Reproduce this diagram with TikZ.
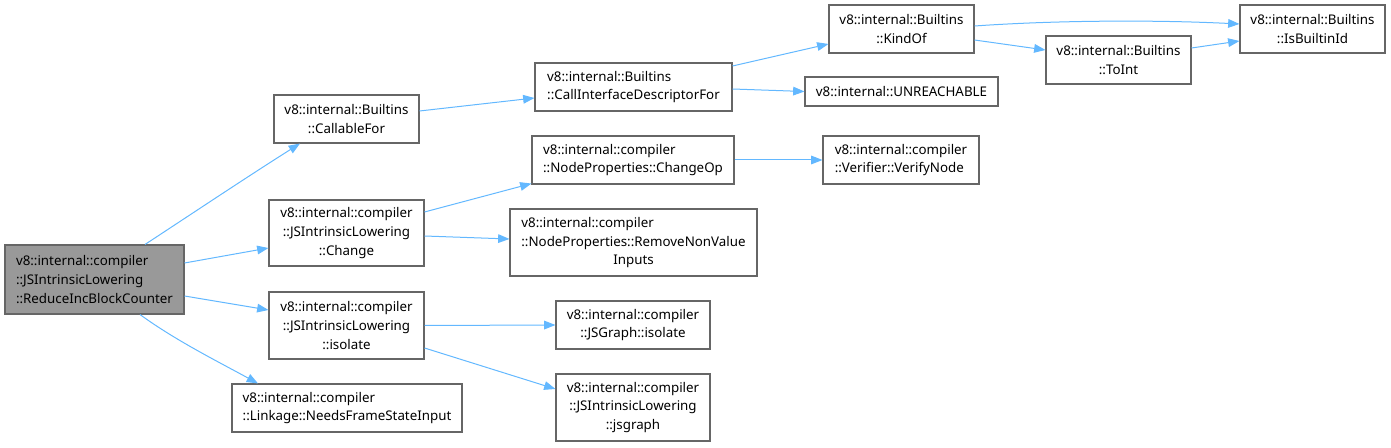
\documentclass[tikz,border=0pt]{standalone}
\usepackage{fontspec}
\setmainfont{Noto Sans}
\usetikzlibrary{arrows.meta,calc}
\begin{document}
\begin{tikzpicture}[x=0.75pt,y=-0.75pt,
  box/.style={draw=black!60,fill=white,line width=0.8pt,rectangle,inner sep=1pt,
    font=\fontsize{10}{14}\selectfont},
  rootbox/.style={box,fill=black!40},
  edge/.style={draw={rgb,255:red,99;green,184;blue,255},line width=0.75pt,
    -{Triangle[length=8.5pt,width=6.5pt]}}]
\useasboundingbox (0,0) rectangle (1391,448);
% nodes
\node[rootbox,align=left,minimum width=179*0.75pt,minimum height=69*0.75pt] (root) at (94.5,279.5)
  {v8::internal::compiler\\::JSIntrinsicLowering\\::ReduceIncBlockCounter};
\node[box,align=center,minimum width=145*0.75pt,minimum height=48*0.75pt] (callable) at (346.5,119)
  {v8::internal::Builtins\\::CallableFor};
\node[box,align=center,minimum width=155*0.75pt,minimum height=66*0.75pt] (change) at (346.5,233)
  {v8::internal::compiler\\::JSIntrinsicLowering\\::Change};
\node[box,align=center,minimum width=155*0.75pt,minimum height=67*0.75pt] (isolate) at (346.5,325.5)
  {v8::internal::compiler\\::JSIntrinsicLowering\\::isolate};
\node[box,align=left,minimum width=230*0.75pt,minimum height=48*0.75pt] (needs) at (347,408)
  {v8::internal::compiler\\::Linkage::NeedsFrameStateInput};
\node[box,align=left,minimum width=197*0.75pt,minimum height=48*0.75pt] (cidf) at (633.5,87)
  {v8::internal::Builtins\\::CallInterfaceDescriptorFor};
\node[box,align=left,minimum width=202*0.75pt,minimum height=48*0.75pt] (changeop) at (633,160)
  {v8::internal::compiler\\::NodeProperties::ChangeOp};
\node[box,minimum width=247*0.75pt,minimum height=67*0.75pt] (rnv) at (633.5,242.5)
  {\begin{tabular}{@{}l@{}}v8::internal::compiler\\::NodeProperties::RemoveNonValue\\\multicolumn{1}{@{}c@{}}{Inputs}\end{tabular}};
\node[box,minimum width=193*0.75pt,minimum height=29*0.75pt] (unreach) at (901.5,91.5)
  {v8::internal::UNREACHABLE};
\node[box,align=center,minimum width=145*0.75pt,minimum height=48*0.75pt] (kindof) at (901.5,29)
  {v8::internal::Builtins\\::KindOf};
\node[box,align=left,minimum width=156*0.75pt,minimum height=48*0.75pt] (verify) at (901,160)
  {v8::internal::compiler\\::Verifier::VerifyNode};
\node[box,align=center,minimum width=145*0.75pt,minimum height=48*0.75pt] (toint) at (1118.5,60)
  {v8::internal::Builtins\\::ToInt};
\node[box,align=center,minimum width=145*0.75pt,minimum height=48*0.75pt] (isbuiltin) at (1312.5,29)
  {v8::internal::Builtins\\::IsBuiltinId};
\node[box,align=center,minimum width=154*0.75pt,minimum height=48*0.75pt] (jsgisolate) at (633,325)
  {v8::internal::compiler\\::JSGraph::isolate};
\node[box,align=center,minimum width=154*0.75pt,minimum height=67*0.75pt] (jsgraph) at (633,407.5)
  {v8::internal::compiler\\::JSIntrinsicLowering\\::jsgraph};
% edges
\draw[edge] ($(root.north)+(50.5,0)$) .. controls (190,215) and (250,175) .. ($(callable.south)+(-46.5,0)$);
\draw[edge] ($(root.east)+(0,-16.5)$) -- ($(change.west)+(0,15)$);
\draw[edge] ($(root.east)+(0,16.5)$) -- ($(isolate.west)+(0,-15.5)$);
\draw[edge] ($(root.south)+(45.5,0)$) .. controls (175,340) and (215,360) .. ($(needs.north)+(-89,0)$);
\draw[edge] ($(callable.east)+(0,-8)$) -- ($(cidf.west)+(0,11)$);
\draw[edge] ($(cidf.east)+(0,-21)$) -- ($(kindof.west)+(0,15)$);
\draw[edge] ($(cidf.east)+(0,2)$) -- (unreach.west);
\draw[edge] ($(kindof.east)+(0,-3)$) .. controls (1060,20) and (1160,20) .. ($(isbuiltin.west)+(0,-5)$);
\draw[edge] ($(kindof.east)+(0,11)$) -- ($(toint.west)+(0,-10)$);
\draw[edge] ($(toint.east)+(0,-12)$) -- ($(isbuiltin.west)+(0,12)$);
\draw[edge] ($(change.east)+(0,-21)$) -- ($(changeop.south west)+(0,-1)$);
\draw[edge] ($(change.east)+(0,3)$) -- ($(rnv.west)+(0,-3.5)$);
\draw[edge] (changeop.east) -- (verify.west);
\draw[edge] (isolate.east) -- (jsgisolate.west);
\draw[edge] ($(isolate.east)+(0,22.5)$) -- ($(jsgraph.west)+(0,-18.5)$);
\end{tikzpicture}
\end{document}
